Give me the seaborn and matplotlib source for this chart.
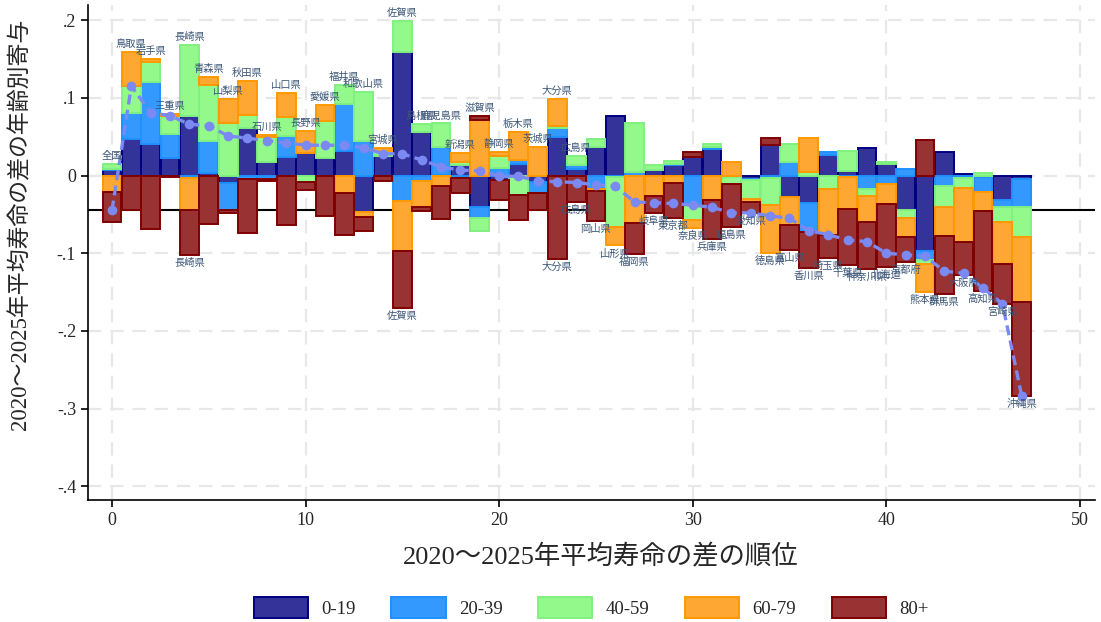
import numpy as np
import pandas as pd
import seaborn as sns
import matplotlib.pyplot as plt
from matplotlib.patches import Patch

# rank 0..47 (0 = national)
names = ["全国", "鳥取県", "岩手県", "三重県", "長崎県", "青森県", "山梨県", "秋田県",
         "石川県", "山口県", "長野県", "愛媛県", "福井県", "和歌山県", "宮城県", "佐賀県",
         "島根県", "鹿児島県", "新潟県", "滋賀県", "静岡県", "栃木県", "茨城県", "大分県",
         "広島県", "岡山県", "山形県", "福岡県", "岐阜県", "東京都", "奈良県", "兵庫県",
         "福島県", "愛知県", "徳島県", "富山県", "香川県", "埼玉県", "千葉県", "神奈川県",
         "北海道", "京都府", "熊本県", "群馬県", "大阪府", "高知県", "宮崎県", "沖縄県"]

age_0_19 = [0.007, 0.047, 0.040, 0.023, 0.077, 0.003, -0.009, 0.061, 0.017, 0.024,
            0.029, 0.022, 0.032, -0.047, 0.025, 0.159, 0.056, 0.001, 0.013, -0.041,
            -0.006, 0.015, -0.008, 0.049, 0.008, 0.037, 0.076, 0.0, 0.007, 0.013,
            0.024, 0.034, -0.002, -0.004, 0.039, -0.027, -0.036, 0.026, 0.006, 0.035,
            0.015, -0.045, -0.097, 0.030, 0.002, -0.002, -0.031, -0.004]
age_20_39 = [0.001, 0.034, 0.081, 0.030, -0.003, 0.041, -0.035, -0.005, -0.005, 0.027,
             0.0, 0.0, 0.060, 0.044, 0.0, -0.033, -0.007, 0.036, -0.003, -0.014,
             0.010, 0.005, -0.015, 0.012, 0.005, -0.017, -0.002, 0.004, 0.0, 0.002,
             -0.039, 0.003, 0.0, -0.002, -0.003, 0.018, -0.037, 0.004, -0.002, -0.017,
             -0.011, 0.009, -0.012, -0.013, -0.003, -0.019, -0.010, -0.036]
age_40_59 = [0.007, 0.034, 0.025, 0.023, 0.091, 0.072, 0.067, 0.017, 0.032, 0.024,
             -0.008, 0.048, 0.024, 0.064, 0.006, 0.040, 0.010, 0.030, 0.005, -0.016,
             0.015, -0.025, 0.0, 0.003, 0.012, 0.010, -0.064, 0.063, 0.006, 0.004,
             -0.018, 0.004, -0.009, -0.024, -0.035, 0.023, 0.004, -0.017, 0.026, -0.009,
             0.003, -0.010, -0.005, -0.028, -0.013, 0.003, -0.019, -0.039]
age_60_79 = [-0.021, 0.044, 0.004, 0.003, -0.042, 0.011, 0.032, 0.044, 0.003, 0.031,
             0.028, 0.021, -0.022, -0.006, 0.004, -0.064, -0.034, -0.013, 0.011, 0.071,
             0.005, 0.036, 0.037, 0.035, 0.0, -0.003, -0.024, -0.061, -0.026, -0.009,
             -0.011, -0.032, 0.018, -0.004, -0.062, -0.037, 0.044, -0.060, -0.041, -0.034,
             -0.026, -0.024, -0.036, -0.037, -0.069, -0.025, -0.054, -0.084]
age_80 = [-0.039, -0.044, -0.069, -0.002, -0.057, -0.063, -0.004, -0.069, -0.002, -0.064,
          -0.010, -0.052, -0.055, -0.019, -0.007, -0.074, -0.005, -0.043, -0.019, 0.006,
          -0.025, -0.032, -0.021, -0.107, -0.034, -0.039, 0.0, -0.040, -0.022, -0.046,
          0.006, -0.050, -0.055, -0.014, 0.009, -0.032, -0.046, -0.029, -0.072, -0.060,
          -0.081, -0.032, 0.046, -0.075, -0.043, -0.102, -0.051, -0.121]

groups = ["0-19", "20-39", "40-59", "60-79", "80+"]
series = [age_0_19, age_20_39, age_40_59, age_60_79, age_80]
faces = ["#333399", "#3399ff", "#93f98b", "#ffa733", "#993333"]
edges = ["#000080", "#1e90ff", "#80f080", "#ff9900", "#800000"]

# which prefectures get a name above / below their bar
top_labels = list(range(0, 25))
bottom_labels = [4, 15] + list(range(23, 48))

rank = np.arange(len(names))
df = pd.DataFrame({g: s for g, s in zip(groups, series)})
df["rank"] = rank
total = df[groups].sum(axis=1).to_numpy()

sns.set_theme(style="white")
plt.rcParams["font.family"] = ["Liberation Serif", "Noto Sans CJK JP"]

fig = plt.figure(figsize=(11.01, 6.22), dpi=100)
ax = fig.add_axes([0.0799, 0.1961, 0.9146, 0.7958])

pos_base = np.zeros(len(rank))
neg_base = np.zeros(len(rank))
for g, fc, ec in zip(groups, faces, edges):
    vals = df[g].to_numpy()
    bottom = np.where(vals >= 0, pos_base, neg_base)
    lw = np.where(vals == 0, 0, 1.4)
    sns.barplot(data=df, x="rank", y=g, native_scale=True, width=0.97, errorbar=None,
                bottom=bottom, color=fc, edgecolor=ec, linewidth=lw,
                saturation=1, ax=ax)
    pos_base = pos_base + np.where(vals > 0, vals, 0)
    neg_base = neg_base + np.where(vals < 0, vals, 0)

ax.axhline(total[0], color="black", lw=1.5, zorder=0.8)

sns.lineplot(x=rank, y=total, color="#7b89f2", marker="o", markersize=7,
             markeredgewidth=0, lw=2.4, linestyle=(0, (3, 1.6)), ax=ax, zorder=3)

lab_kw = dict(ha="center", fontsize=7.4, color="#3b5577", textcoords="offset points",
              family=["Noto Sans CJK JP"], zorder=4)
for i in top_labels:
    ax.annotate(names[i], (i, pos_base[i]), xytext=(0, 2.2), va="bottom", **lab_kw)
for i in bottom_labels:
    ax.annotate(names[i], (i, neg_base[i]), xytext=(0, -2.2), va="top", **lab_kw)

ax.set_xlim(-1.24, 50.78)
ax.set_ylim(-0.4176, 0.2194)
ax.set_xticks([0, 10, 20, 30, 40, 50], labels=["0", "10", "20", "30", "40", "50"])
ax.set_yticks([0.2, 0.1, 0, -0.1, -0.2, -0.3, -0.4],
              labels=[".2", ".1", "0", "-.1", "-.2", "-.3", "-.4"])
ax.tick_params(axis="both", labelsize=13, length=5, width=1.2, color="black",
               direction="out", left=True, bottom=True)
ax.grid(True, color="#e8e8e8", lw=1.6, linestyle=(0, (6, 4)))
ax.set_axisbelow(True)
for s in ["top", "right"]:
    ax.spines[s].set_visible(False)
for s in ["left", "bottom"]:
    ax.spines[s].set_color("black")
    ax.spines[s].set_linewidth(1.2)

ax.set_xlabel("2020〜2025年平均寿命の差の順位", fontsize=19)
ax.set_ylabel("2020〜2025年平均寿命の差の年齢別寄与", fontsize=16.5)
ax.xaxis.set_label_coords(0.509, -0.09)
ax.yaxis.set_label_coords(-0.056, 0.557)

handles = [Patch(facecolor=fc, edgecolor=ec, lw=1.4) for fc, ec in zip(faces, edges)]
fig.legend(handles, groups, loc="center", bbox_to_anchor=(0.537, 0.023), ncol=5,
           frameon=False, fontsize=13.5, handlelength=2.9, handleheight=1.3,
           handletextpad=0.7, columnspacing=1.9)

fig.savefig("out.png", dpi=100)
